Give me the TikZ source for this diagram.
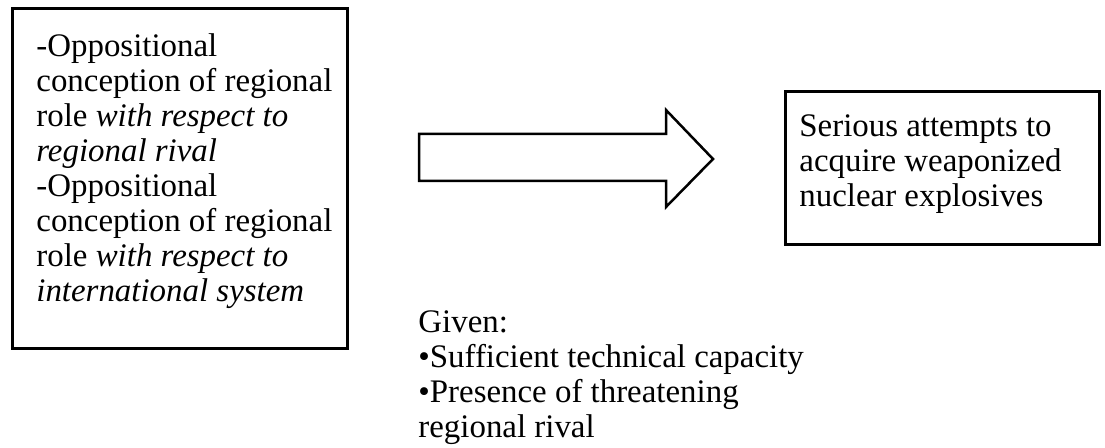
\documentclass[tikz,border=0pt]{standalone}
\usepackage{fontspec}
\setmainfont{Liberation Serif}
\begin{document}
\begin{tikzpicture}[x=0.5pt,y=-0.5pt,
  frame/.style={draw=black,line width=1.5pt},
  arrowline/.style={draw=black,line width=1.25pt,line join=miter},
  txt/.style={inner sep=0pt,anchor=base west,align=left,font=\fontsize{16.45}{17.5}\selectfont}]
\useasboundingbox (0,0) rectangle (1105,448);
% left box
\coordinate (l1) at (12,9);
\coordinate (l2) at (347,349);
\draw[frame] (l1) rectangle (l2);
\node[txt] (ltext) at (36,302) {-Oppositional\\conception of regional\\role \textit{with respect to}\\\textit{regional rival}\\-Oppositional\\conception of regional\\role \textit{with respect to}\\\textit{international system}};
% right box
\coordinate (r1) at (785,92);
\coordinate (r2) at (1099,245);
\draw[frame] (r1) rectangle (r2);
\node[txt] (rtext) at (799,207) {Serious attempts to\\acquire weaponized\\nuclear explosives};
% block arrow
\coordinate (a1) at (419,134);
\coordinate (a2) at (666,134);
\coordinate (a3) at (666,110);
\coordinate (tip) at (713,159);
\coordinate (a5) at (666,207);
\coordinate (a6) at (666,181);
\coordinate (a7) at (419,181);
\draw[arrowline] (a1) -- (a2) -- (a3) -- (tip) -- (a5) -- (a6) -- (a7) -- cycle;
% given
\node[txt] (given) at (418,438) {Given:\\•Sufficient technical capacity\\•Presence of threatening\\regional rival};
\end{tikzpicture}
\end{document}
